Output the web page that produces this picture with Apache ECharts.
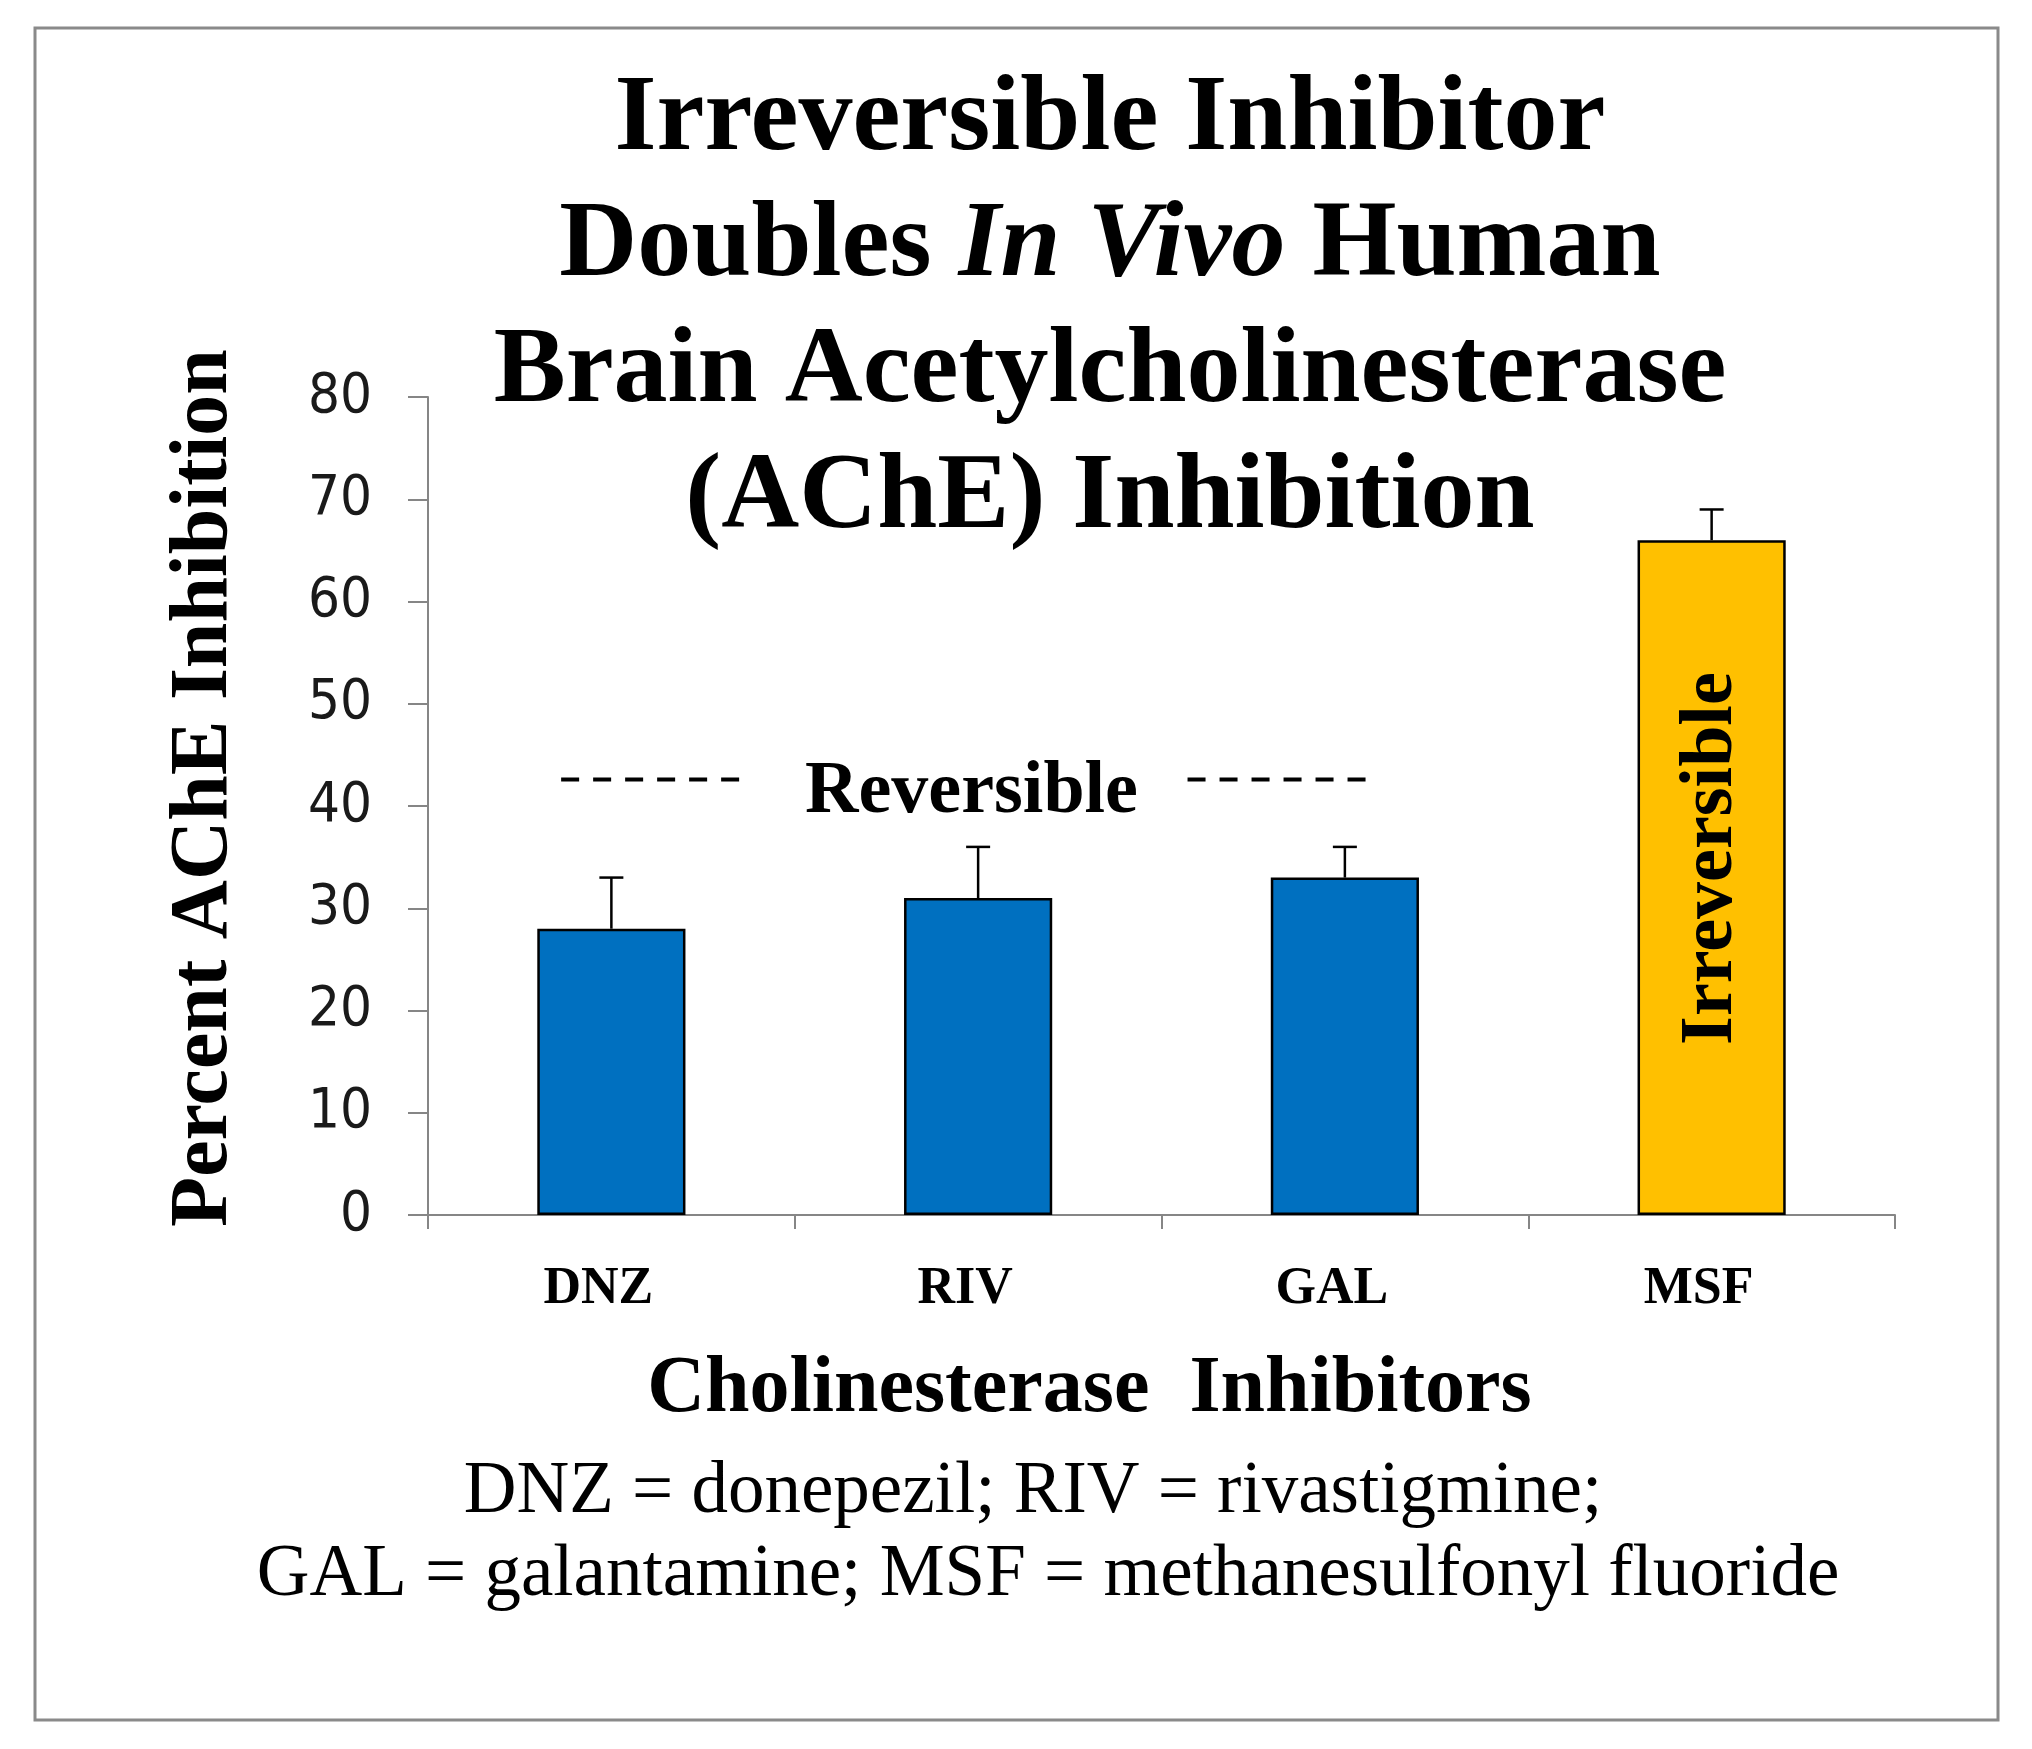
<!DOCTYPE html>
<html>
<head>
<meta charset="utf-8">
<script src="https://cdn.jsdelivr.net/npm/echarts@6/dist/echarts.min.js"></script>
<style>
html,body{margin:0;padding:0;background:#fff;}
#chart{width:2032px;height:1749px;}
</style>
</head>
<body>
<div id="chart"></div>
<script>
// ---- data ----
var categories = ['DNZ', 'RIV', 'GAL', 'MSF'];
var inhibition = [28, 31, 33, 66];
var errorUp = [5, 5, 3, 3];
var barColors = ['#0070C0', '#0070C0', '#0070C0', '#FFC000'];
var barNotes = ['', '', '', 'Irreversible'];
var yTicks = [0, 10, 20, 30, 40, 50, 60, 70, 80];
// annotation "Reversible" with dashed rules (x in category units on hidden 0..4 axis)
var reversibleY = 42.6;
var dashLeft = [0.363, 0.860];
var dashRight = [2.071, 2.562];
var reversibleLabelPos = [1.482, 41.3];

var serif = '"Liberation Serif", "Times New Roman", serif';

var chart = echarts.init(document.getElementById('chart'), null, {renderer: 'canvas'});

var barData = inhibition.map(function (v, i) {
  return {
    value: v,
    itemStyle: {color: barColors[i], borderColor: '#000', borderWidth: 2.5},
    label: barNotes[i] ? {show: true} : {show: false}
  };
});

var errData = categories.map(function (c, i) {
  return [i, inhibition[i], inhibition[i] + errorUp[i]];
});

var option = {
  backgroundColor: '#fff',
  animation: false,
  graphic: [{
    type: 'rect',
    shape: {x: 35, y: 28, width: 1963, height: 1692},
    style: {fill: 'none', stroke: '#8a8a8a', lineWidth: 3},
    z: -10
  }],
  title: [{
    text: 'Irreversible Inhibitor\nDoubles {i|In Vivo} Human\nBrain Acetylcholinesterase\n(AChE) Inhibition',
    left: 1110,
    top: 58,
    textAlign: 'center',
    padding: 0,
    textStyle: {
      fontFamily: serif, fontWeight: 'bold', fontSize: 108, lineHeight: 126, color: '#000',
      rich: {
        i: {fontFamily: serif, fontWeight: 'bold', fontStyle: 'italic', fontSize: 108, lineHeight: 126, color: '#000'}
      }
    }
  }, {
    text: 'DNZ = donepezil; RIV = rivastigmine;',
    left: 1033,
    top: 1451,
    textAlign: 'center',
    padding: 0,
    textStyle: {fontFamily: serif, fontWeight: 'normal', fontSize: 73, lineHeight: 84, color: '#000'}
  }, {
    text: 'GAL = galantamine; MSF = methanesulfonyl fluoride',
    left: 1048,
    top: 1534,
    textAlign: 'center',
    padding: 0,
    textStyle: {fontFamily: serif, fontWeight: 'normal', fontSize: 73, lineHeight: 84, color: '#000'}
  }],
  grid: {left: 428, right: 137, top: 397, bottom: 534, containLabel: false},
  xAxis: [{
    type: 'category',
    data: categories,
    axisLine: {lineStyle: {color: '#868686', width: 2}},
    axisTick: {show: true, length: 14, lineStyle: {color: '#868686', width: 2}},
    axisLabel: {fontFamily: serif, fontWeight: 'bold', fontSize: 52, color: '#000', margin: 49, padding: [0, 26, 0, 0]},
    name: 'Cholinesterase  Inhibitors',
    nameLocation: 'middle',
    nameGap: 135,
    nameTextStyle: {fontFamily: serif, fontWeight: 'bold', fontSize: 80, color: '#000', padding: [0, 144, 0, 0]},
    splitLine: {show: false}
  }, {
    type: 'value',
    min: 0, max: 4,
    show: false,
    position: 'bottom'
  }],
  yAxis: {
    type: 'value',
    min: 0, max: 80, interval: 10,
    axisLine: {show: true, lineStyle: {color: '#868686', width: 2}},
    axisTick: {show: true, length: 20, lineStyle: {color: '#868686', width: 2}},
    axisLabel: {fontFamily: '"DejaVu Sans Condensed", "DejaVu Sans", sans-serif', fontSize: 56, color: '#1a1a1a', margin: 56},
    splitLine: {show: false},
    name: 'Percent AChE Inhibition',
    nameLocation: 'middle',
    nameGap: 182,
    nameTextStyle: {fontFamily: serif, fontWeight: 'bold', fontSize: 82, color: '#000', padding: [0, 0, 0, 36]}
  },
  series: [{
    type: 'bar',
    data: barData,
    barWidth: '40.4%',
    xAxisIndex: 0,
    label: {
      position: 'inside',
      rotate: 90,
      offset: [19, 0],
      formatter: function (p) { return barNotes[p.dataIndex]; },
      fontFamily: serif, fontWeight: 'bold', fontSize: 74, color: '#000'
    },
    z: 2
  }, {
    type: 'custom',
    xAxisIndex: 0,
    data: errData,
    encode: {x: 0, y: [1, 2]},
    renderItem: function (params, api) {
      var base = api.coord([api.value(0), api.value(1)]);
      var top = api.coord([api.value(0), api.value(2)]);
      var hw = 12;
      return {
        type: 'group',
        children: [{
          type: 'line',
          shape: {x1: base[0], y1: base[1], x2: top[0], y2: top[1]},
          style: {stroke: '#000', lineWidth: 2.5}
        }, {
          type: 'line',
          shape: {x1: top[0] - hw, y1: top[1], x2: top[0] + hw, y2: top[1]},
          style: {stroke: '#000', lineWidth: 2.5}
        }]
      };
    },
    z: 3
  }, {
    type: 'line',
    xAxisIndex: 1,
    data: [[dashLeft[0], reversibleY], [dashLeft[1], reversibleY]],
    symbol: 'none',
    lineStyle: {color: '#000', width: 4, type: [18, 14]},
    z: 4
  }, {
    type: 'line',
    xAxisIndex: 1,
    data: [[dashRight[0], reversibleY], [dashRight[1], reversibleY]],
    symbol: 'none',
    lineStyle: {color: '#000', width: 4, type: [18, 14]},
    z: 4
  }, {
    type: 'scatter',
    xAxisIndex: 1,
    data: [reversibleLabelPos],
    symbolSize: 0,
    itemStyle: {opacity: 1},
    label: {
      show: true,
      position: 'inside',
      formatter: 'Reversible',
      opacity: 1,
      fontFamily: serif, fontWeight: 'bold', fontSize: 74, color: '#000'
    },
    z: 5
  }]
};

chart.setOption(option);
</script>
</body>
</html>
